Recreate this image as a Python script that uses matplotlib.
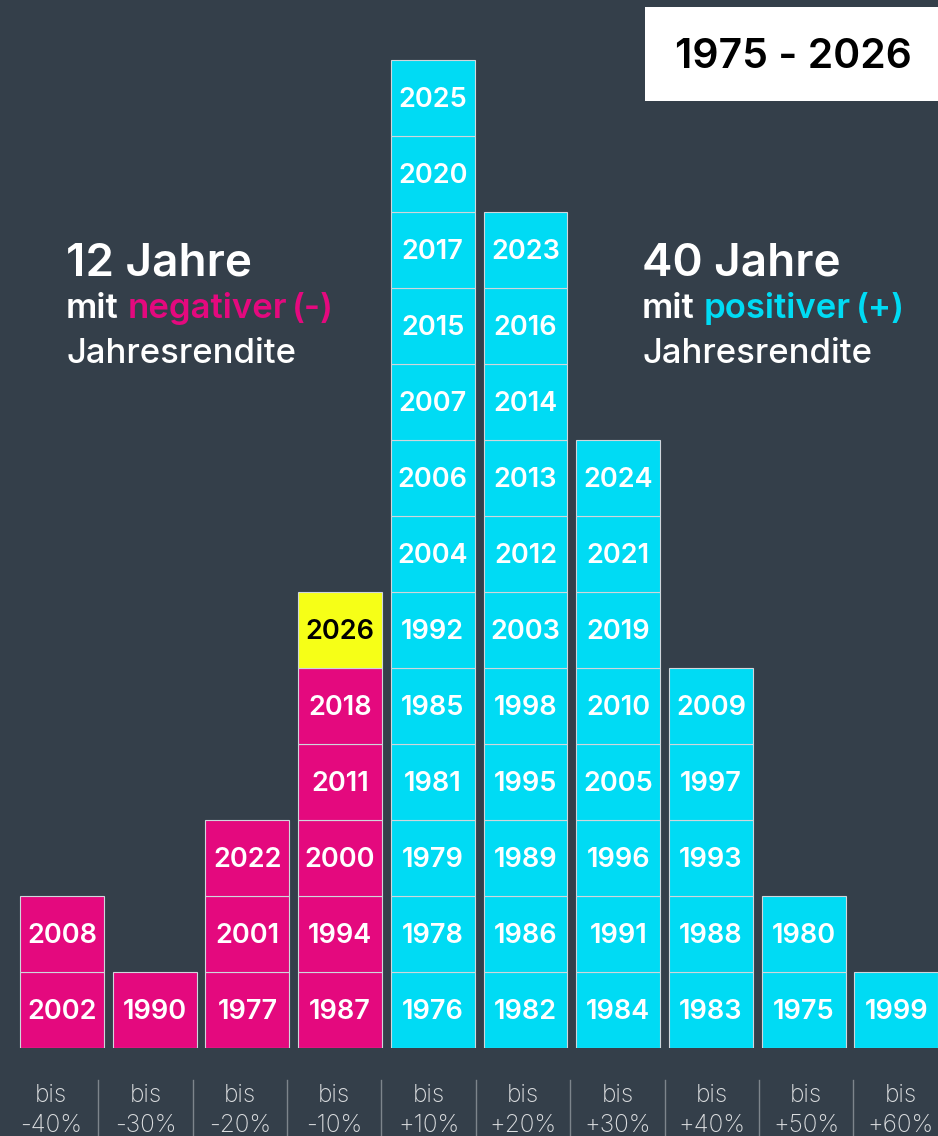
import matplotlib.pyplot as plt
from matplotlib.patches import Rectangle

# Daten: Jahre pro Renditeklasse (von unten nach oben gestapelt)
bins = ['-40%', '-30%', '-20%', '-10%', '+10%', '+20%', '+30%', '+40%', '+50%', '+60%']
years = [
    [2002, 2008],
    [1990],
    [1977, 2001, 2022],
    [1987, 1994, 2000, 2011, 2018, 2026],
    [1976, 1978, 1979, 1981, 1985, 1992, 2004, 2006, 2007, 2015, 2017, 2020, 2025],
    [1982, 1986, 1989, 1995, 1998, 2003, 2012, 2013, 2014, 2016, 2023],
    [1984, 1991, 1996, 2005, 2010, 2019, 2021, 2024],
    [1983, 1988, 1993, 1997, 2009],
    [1975, 1980],
    [1999],
]
current_year = 2026
n_negative = 12
n_positive = 40
period = '1975 - 2026'

# Farben
BG = '#343f4a'
NEG = '#e4097e'
POS = '#00dbf4'
CUR = '#f6ff17'
FONT = 'Inter'

W, H = 938, 1136
fig = plt.figure(figsize=(W / 100, H / 100), dpi=100, facecolor=BG)

# Hauptachse für die Kästchen
ax = fig.add_axes([0, 88 / H, 1, 1048 / H])
ax.set_facecolor(BG)
ax.set_xlim(-0.669, 9.45)
ax.set_ylim(0, 1048 / 76)
ax.axis('off')

for i, col in enumerate(years):
    for j, yr in enumerate(col):
        if yr == current_year:
            fc, tc = CUR, 'black'
        elif bins[i].startswith('-'):
            fc, tc = NEG, 'white'
        else:
            fc, tc = POS, 'white'
        ax.bar(i, 1, bottom=j, width=0.906, color=fc, edgecolor='#d0d6dc', linewidth=0.8)
        ax.text(i, j + 0.47, str(yr), ha='center', va='center', color=tc,
                fontsize=19.5, fontweight='semibold', family=FONT)

# Achse für die Klassenbeschriftung
lab = fig.add_axes([0, 0, 1, 88 / H])
lab.set_facecolor(BG)
lab.set_xlim(-0.54, 9.396)
lab.set_ylim(0, 1)
lab.axis('off')
for i, b in enumerate(bins):
    lab.text(i, 0.46, 'bis', ha='center', va='center', color='#dcdee0',
             fontsize=17.5, fontweight='light', family=FONT)
    lab.text(i, 0.12, b, ha='center', va='center', color='#dcdee0',
             fontsize=17.5, fontweight='light', family=FONT)
    if i < len(bins) - 1:
        lab.plot([i + 0.5, i + 0.5], [0, 0.64], color='#7d858c', linewidth=1)

# Zeitraum-Box oben rechts
fig.patches.append(Rectangle((645 / W, 1 - 101 / H), (W - 645) / W, 94 / H,
                             transform=fig.transFigure, facecolor='white',
                             edgecolor='none', zorder=5))
fig.text(793 / W, 1 - 57 / H, period, ha='center', va='center', color='black',
         fontsize=29.5, fontweight='semibold', family=FONT, zorder=6)

renderer = fig.canvas.get_renderer()


def text_line(x, y, parts, size, weight):
    # Textteile mit unterschiedlichen Farben nebeneinander setzen
    for s, c, gap in parts:
        t = fig.text(x / W, 1 - y / H, s, color=c, fontsize=size,
                     fontweight=weight, family=FONT, va='baseline', ha='left')
        bb = t.get_window_extent(renderer)
        x += bb.width + gap


for x0, n, word, sign, col in [(66, n_negative, 'negativer', '(-)', NEG),
                               (642, n_positive, 'positiver', '(+)', POS)]:
    text_line(x0, 276, [(f'{n} Jahre', 'white', 0)], 33, 'semibold')
    text_line(x0, 318, [('mit', 'white', 9), (word, col, 5), (sign, col, 0)], 25, 'semibold')
    text_line(x0, 363, [('Jahresrendite', 'white', 0)], 25, 'medium')

fig.savefig('out.png', dpi=100, facecolor=BG)
